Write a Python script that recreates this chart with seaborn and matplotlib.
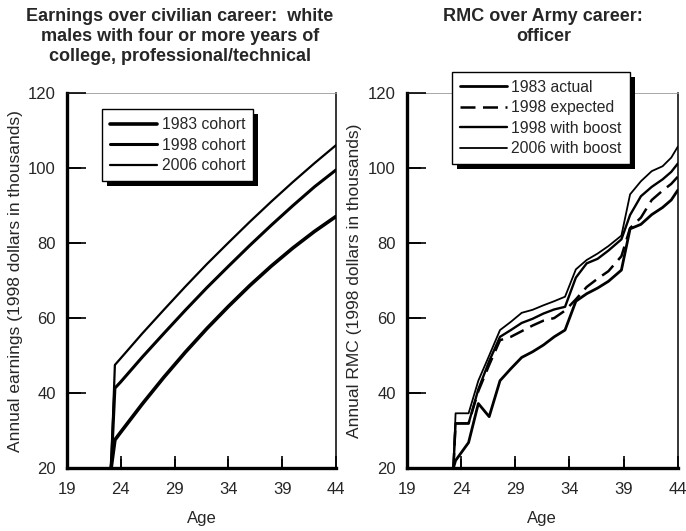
import matplotlib
matplotlib.use('Agg')
import matplotlib.pyplot as plt
import matplotlib.patheffects as pe
import seaborn as sns

# civilian earnings (thousands of 1998 dollars) by age
civ_age = [23.1, 23.45, 24, 26, 28, 30, 32, 34, 36, 38, 40, 42, 44]
civ_1983 = [20, 27.5, 29.6, 37.1, 44.2, 50.9, 57.2, 63.1, 68.7, 73.9, 78.7, 83.1, 87.1]
civ_1998 = [20, 41.3, 43.0, 49.6, 55.9, 62.1, 68.1, 73.8, 79.4, 84.8, 90.0, 95.0, 99.5]
civ_2006 = [20, 47.5, 49.3, 55.9, 62.2, 68.4, 74.4, 80.1, 85.7, 91.1, 96.3, 101.3, 106.1]

# officer RMC (thousands of 1998 dollars) by age
rmc_age = [23.3, 23.5, 24.7, 25.6, 26.6, 27.6, 28.6, 29.6, 30.6, 31.6, 32.6, 33.6,
           34.6, 35.6, 36.6, 37.6, 38.8, 39.6, 40.6, 41.6, 42.6, 43.4, 44.0]
rmc_1983_actual = [20, 22.0, 26.8, 37.2, 33.7, 43.3, 46.5, 49.5, 51.0, 52.8, 55.0, 56.8,
                   64.5, 66.5, 68.0, 69.8, 72.8, 83.8, 85.0, 87.6, 89.5, 91.5, 94.1]
rmc_1998_expected = [20, 31.9, 31.9, 40.5, 47.5, 54.1, 55.0, 56.5, 58.0, 59.3, 60.0, 62.0,
                     65.0, 68.3, 70.5, 72.5, 76.5, 84.0, 86.8, 91.5, 94.0, 95.8, 97.7]
rmc_1998_boost = [20, 31.9, 31.9, 41.0, 48.5, 55.0, 56.8, 58.7, 59.8, 61.2, 62.3, 63.0,
                  70.8, 74.6, 75.8, 78.0, 81.0, 87.5, 92.5, 95.0, 97.0, 99.0, 101.2]
rmc_2006_boost = [20, 34.6, 34.6, 43.3, 50.0, 56.8, 59.0, 61.4, 62.2, 63.4, 64.5, 65.7,
                  73.0, 75.5, 77.2, 79.2, 82.0, 93.0, 96.5, 99.2, 100.5, 102.8, 105.7]

x_ticks = [19, 24, 29, 34, 39, 44]
y_ticks = [20, 40, 60, 80, 100, 120]

sns.set_style('white')
plt.rcParams['font.family'] = ['Liberation Sans', 'DejaVu Sans']
plt.rcParams['axes.axisbelow'] = False

fig = plt.figure(figsize=(6.86, 5.31), dpi=100)
ax1 = fig.add_axes([0.0977, 0.1186, 0.392, 0.706])
ax2 = fig.add_axes([0.593, 0.1186, 0.395, 0.706])


def style_axes(ax, ylabel):
    ax.set_xlim(19, 44)
    ax.set_ylim(20, 120)
    ax.set_xticks(x_ticks)
    ax.set_yticks(y_ticks)
    ax.tick_params(axis='x', direction='in', length=9, width=1.2, color='black',
                   labelsize=12, pad=10, bottom=True)
    ax.tick_params(axis='y', direction='in', length=14, width=1.2, color='black',
                   labelsize=12, pad=8, left=True)
    # inward tick marks drawn along the axes as well, so they always show
    ax.vlines(x_ticks[1:-1], 0, 0.025, transform=ax.get_xaxis_transform(),
              colors='black', linewidth=1.2, zorder=3, clip_on=False)
    ax.hlines(y_ticks[1:-1], 0, 0.052, transform=ax.get_yaxis_transform(),
              colors='black', linewidth=1.2, zorder=3, clip_on=False)
    ax.spines['left'].set_linewidth(2.4)
    ax.spines['bottom'].set_linewidth(2.4)
    ax.spines['right'].set_linewidth(1.1)
    ax.spines['top'].set_linewidth(0.6)
    ax.spines['top'].set_edgecolor('#999999')
    ax.spines['left'].set_edgecolor('black')
    ax.spines['bottom'].set_edgecolor('black')
    ax.spines['right'].set_edgecolor('black')
    ax.set_xlabel('Age', fontsize=12)
    ax.set_ylabel(ylabel, fontsize=12.5)
    ax.xaxis.set_label_coords(0.5, -0.115)
    ax.yaxis.set_label_coords(-0.165, 0.5)


# left panel
sns.lineplot(x=civ_age, y=civ_1983, ax=ax1, color='black', linewidth=2.6,
             sort=False, estimator=None, label='1983 cohort')
sns.lineplot(x=civ_age, y=civ_1998, ax=ax1, color='black', linewidth=2.2,
             sort=False, estimator=None, label='1998 cohort')
sns.lineplot(x=civ_age, y=civ_2006, ax=ax1, color='black', linewidth=1.6,
             sort=False, estimator=None, label='2006 cohort')
style_axes(ax1, 'Annual earnings (1998 dollars in thousands)')

# right panel
sns.lineplot(x=rmc_age, y=rmc_1983_actual, ax=ax2, color='black', linewidth=2.0,
             sort=False, estimator=None, label='1983 actual')
sns.lineplot(x=rmc_age, y=rmc_1998_expected, ax=ax2, color='black', linewidth=1.8,
             linestyle=(0, (6, 3)), sort=False, estimator=None, label='1998 expected')
sns.lineplot(x=rmc_age, y=rmc_1998_boost, ax=ax2, color='black', linewidth=1.7,
             sort=False, estimator=None, label='1998 with boost')
sns.lineplot(x=rmc_age, y=rmc_2006_boost, ax=ax2, color='black', linewidth=1.3,
             sort=False, estimator=None, label='2006 with boost')
style_axes(ax2, 'Annual RMC (1998 dollars in thousands)')

leg_kw = dict(loc='upper left', fontsize=11.3, frameon=True, fancybox=False,
              framealpha=1, edgecolor='black', handlelength=3.0, handletextpad=0.3,
              labelspacing=0.35, borderpad=0.5, borderaxespad=0)
leg1 = ax1.legend(bbox_to_anchor=(0.13, 0.957), **leg_kw)
leg2 = ax2.legend(bbox_to_anchor=(0.166, 1.056), **leg_kw)
for leg in (leg1, leg2):
    frame = leg.get_frame()
    frame.set_linewidth(1.0)
    # solid black drop shadow, offset down-right
    frame.set_path_effects([pe.SimplePatchShadow(offset=(3.6, -3.6), shadow_rgbFace='black',
                                                 alpha=1.0), pe.Normal()])
    leg.set_zorder(6)

fig.text(0.262, 0.985, 'Earnings over civilian career:  white\nmales with four or more years of\ncollege, professional/technical',
         ha='center', va='top', fontsize=13, fontweight='bold', linespacing=1.22)
fig.text(0.792, 0.985, 'RMC over Army career:\nofficer',
         ha='center', va='top', fontsize=13, fontweight='bold', linespacing=1.22)

fig.savefig('out.png', dpi=100)
